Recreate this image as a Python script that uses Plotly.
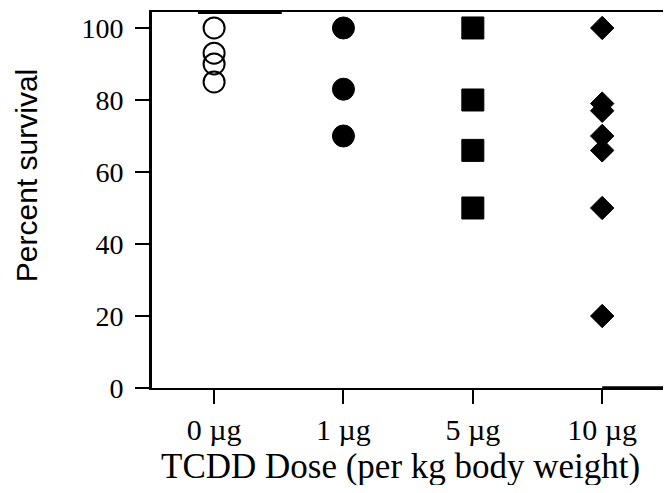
import plotly.graph_objects as go

doses = ["0 µg", "1 µg", "5 µg", "10 µg"]
survival_0 = [100, 93, 90, 85]
survival_1 = [100, 83, 70]
survival_5 = [100, 80, 66, 50]
survival_10 = [100, 79, 77, 70, 66, 50, 20]
y_ticks = [0, 20, 40, 60, 80, 100]

fig = go.Figure()
fig.add_trace(go.Scatter(x=[doses[0]] * len(survival_0), y=survival_0, mode="markers",
                         marker=dict(symbol="circle-open", size=21, color="black", line=dict(width=2, color="black"))))
fig.add_trace(go.Scatter(x=[doses[1]] * len(survival_1), y=survival_1, mode="markers",
                         marker=dict(symbol="circle", size=22, color="black", line=dict(width=1, color="black"))))
fig.add_trace(go.Scatter(x=[doses[2]] * len(survival_5), y=survival_5, mode="markers",
                         marker=dict(symbol="square", size=22, color="black", line=dict(width=1, color="black"))))
fig.add_trace(go.Scatter(x=[doses[3]] * len(survival_10), y=survival_10, mode="markers",
                         marker=dict(symbol="diamond", size=18, color="black", line=dict(width=1, color="black"))))

fig.update_layout(
    width=655, height=477,
    margin=dict(l=144, r=0, t=4, b=97),
    plot_bgcolor="white", paper_bgcolor="white",
    showlegend=False,
    font=dict(family="Liberation Serif", color="black", size=28),
)
fig.update_xaxes(
    type="category", categoryorder="array", categoryarray=doses,
    range=[-0.48, 3.47], automargin=False,
    showgrid=False, zeroline=False,
    showline=True, linecolor="black", linewidth=1.5, mirror=True,
    ticks="outside", ticklen=14, tickwidth=1.5, tickcolor="black",
    tickfont=dict(family="Liberation Serif", size=30),
)
fig.update_yaxes(
    range=[0, 104.44], automargin=False,
    tickvals=y_ticks,
    showgrid=False, zeroline=False,
    showline=True, linecolor="black", linewidth=3,
    ticks="outside", ticklen=14, tickwidth=1.5, tickcolor="black",
    ticklabelstandoff=6,
    tickfont=dict(family="Liberation Serif", size=28),
)
fig.add_annotation(text="Percent survival", xref="paper", yref="paper", x=-0.2466, y=0.566,
                   showarrow=False, textangle=-90, xanchor="center", yanchor="middle",
                   font=dict(family="Liberation Sans", size=30, color="black"))
fig.add_annotation(text="TCDD Dose (per kg body weight)", xref="paper", yref="paper", x=0.487, y=-0.21,
                   showarrow=False, xanchor="center", yanchor="middle",
                   font=dict(family="Liberation Serif", size=35, color="black"))
fig.add_shape(type="line", xref="paper", yref="paper", x0=0.09, x1=0.254, y0=1, y1=1,
              line=dict(color="black", width=4))
fig.add_shape(type="line", xref="paper", yref="paper", x0=0.881, x1=1, y0=0, y1=0,
              line=dict(color="black", width=3.5))

fig.write_html("out.html")
